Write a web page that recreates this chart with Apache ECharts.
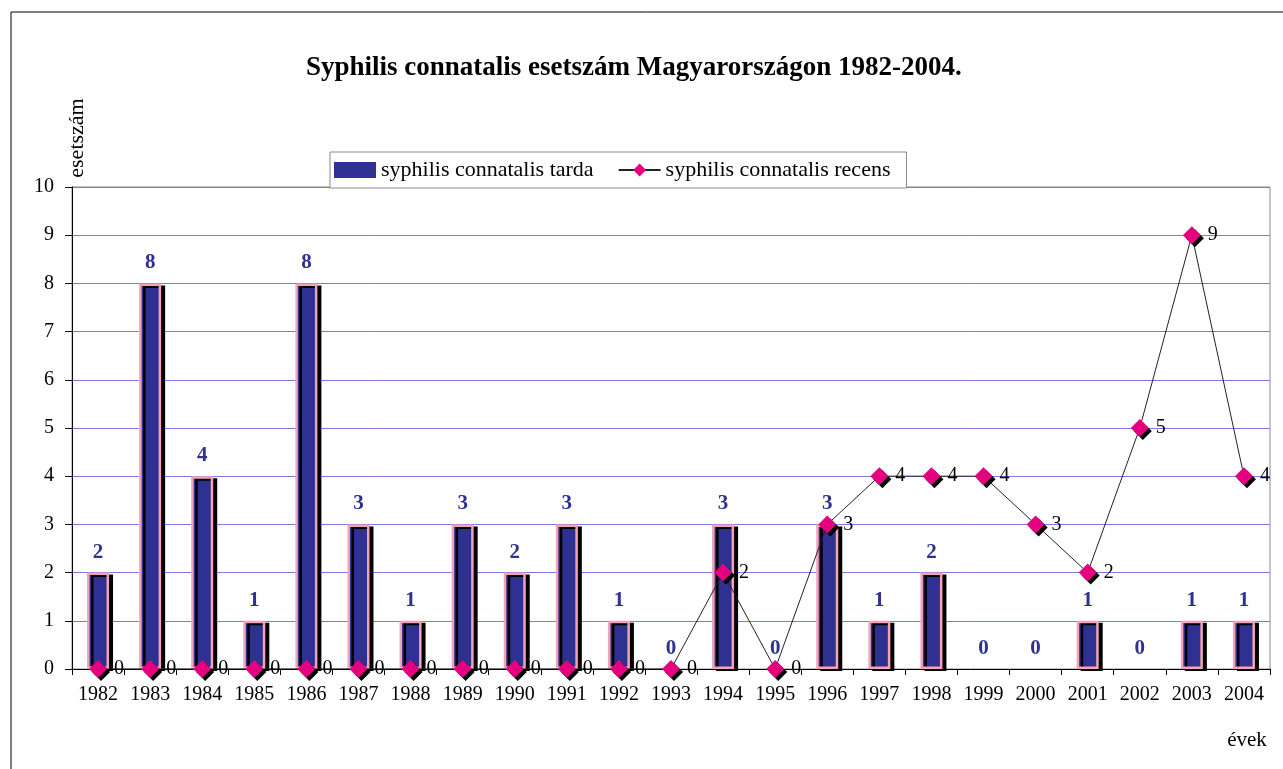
<!DOCTYPE html>
<html><head><meta charset="utf-8">
<script src="https://cdn.jsdelivr.net/npm/echarts@6/dist/echarts.min.js"></script>
<style>html,body{margin:0;padding:0;background:#fff}#c{width:1283px;height:769px}</style>
</head><body><div id="c"></div>
<script>
const years = ['1982','1983','1984','1985','1986','1987','1988','1989','1990','1991','1992','1993','1994','1995','1996','1997','1998','1999','2000','2001','2002','2003','2004'];
const tarda = [2,8,4,1,8,3,1,3,2,3,1,0,3,0,3,1,2,0,0,1,0,1,1];
const recens = [0,0,0,0,0,0,0,0,0,0,0,0,2,0,3,4,4,4,3,2,5,9,4];
const yTicks = [0,1,2,3,4,5,6,7,8,9,10];

const FONT = '"Liberation Serif", "Times New Roman", serif';
const hiddenZero = {color: 'rgba(0,0,0,0)', borderWidth: 0, shadowColor: 'rgba(0,0,0,0)'};
const tardaData = tarda.map(v => v === 0 ? {value: v, itemStyle: hiddenZero} : v);

const chart = echarts.init(document.getElementById('c'));
chart.setOption({
  animation: false,
  backgroundColor: '#fff',
  title: {
    text: 'Syphilis connatalis esetszám Magyarországon 1982-2004.',
    left: 301, top: 50,
    textStyle: {fontFamily: FONT, fontSize: 27, fontWeight: 'bold', color: '#000'}
  },
  legend: {
    left: 330, top: 152,
    backgroundColor: '#fff', borderColor: '#888', borderWidth: 1,
    padding: [7, 16, 7, 4], itemGap: 24,
    itemWidth: 42, itemHeight: 16,
    textStyle: {fontFamily: FONT, fontSize: 22, color: '#000'},
    data: [
      {name: 'syphilis connatalis tarda', icon: 'rect', itemStyle: {borderWidth: 0, shadowBlur: 0, shadowOffsetX: 0, shadowOffsetY: 0, shadowColor: 'rgba(0,0,0,0)'}},
      {name: 'syphilis connatalis recens', itemStyle: {shadowColor: 'rgba(0,0,0,0)'}}
    ]
  },
  grid: {left: 72, right: 13, top: 187, bottom: 100, show: true, borderColor: '#888', borderWidth: 1},
  xAxis: {
    type: 'category', data: years, boundaryGap: true,
    axisLine: {lineStyle: {color: '#000', width: 1}},
    axisTick: {show: true, length: 6, inside: false, lineStyle: {color: '#000'}},
    axisLabel: {fontFamily: FONT, fontSize: 20, color: '#000', margin: 16}
  },
  yAxis: {
    type: 'value', min: 0, max: 10, interval: 1,
    axisLine: {show: true, lineStyle: {color: '#000', width: 1}},
    axisTick: {show: true, length: 7, lineStyle: {color: '#000'}},
    axisLabel: {fontFamily: FONT, fontSize: 20, color: '#000', margin: 18,
      formatter: v => yTicks.includes(v) ? String(v) : ''},
    splitLine: {lineStyle: {color: '#7a7ae6', width: 1}}
  },
  graphic: [
    {type: 'rect', shape: {x: 11, y: 12, width: 1300, height: 800}, style: {fill: 'none', stroke: '#000', lineWidth: 1}, silent: true, z: -10},
    {type: 'text', x: 77, y: 138, rotation: Math.PI / 2,
      style: {text: 'esetszám', fontFamily: FONT, fontSize: 22, fill: '#000', align: 'center', verticalAlign: 'middle'}},
    {type: 'text', x: 1247, y: 740,
      style: {text: 'évek', fontFamily: FONT, fontSize: 21, fill: '#000', align: 'center', verticalAlign: 'middle'}}
  ],
  series: [
    {
      name: 'syphilis connatalis tarda', type: 'bar', data: tardaData, barWidth: 22,
      itemStyle: {color: '#2e3192', borderColor: '#f4a2b4', borderWidth: 2.5,
        shadowColor: '#000', shadowBlur: 0, shadowOffsetX: 4, shadowOffsetY: 2},
      label: {show: true, position: 'top', distance: 10, fontFamily: FONT, fontSize: 21, fontWeight: 'bold', color: '#2e3192'},
      z: 2
    },
    {
      name: 'syphilis connatalis recens', type: 'line', data: recens,
      symbol: 'diamond', symbolSize: 18,
      lineStyle: {color: '#222', width: 1},
      itemStyle: {color: '#e4007f', shadowColor: '#000', shadowBlur: 0, shadowOffsetX: 3, shadowOffsetY: 3},
      label: {show: true, position: 'right', distance: 7, fontFamily: FONT, fontSize: 20, color: '#000'},
      z: 3
    }
  ]
});
</script></body></html>
